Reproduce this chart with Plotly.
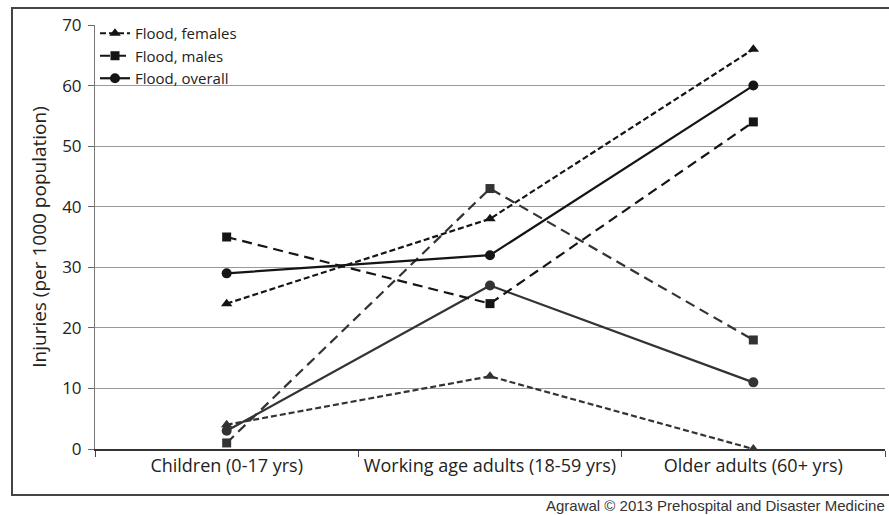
import plotly.graph_objects as go

categories = ["Children (0-17 yrs)", "Working age adults (18-59 yrs)", "Older adults (60+ yrs)"]

flood_females = [24, 38, 66]
flood_males = [35, 24, 54]
flood_overall = [29, 32, 60]

other_females = [4, 12, 0]
other_males = [1, 43, 18]
other_overall = [3, 27, 11]

y_title = "Injuries (per 1000 population)"
credit = "Agrawal © 2013 Prehospital and Disaster Medicine"

FONT = "Open Sans"
dark = "#151515"
gray = "#333333"

fig = go.Figure()

def add(y, name, color, dash, symbol, size, show):
    fig.add_trace(go.Scatter(
        x=categories, y=y, name=name, mode="lines+markers",
        line=dict(color=color, width=2.2, dash=dash),
        marker=dict(symbol=symbol, size=size, color=color),
        showlegend=show,
    ))

# un-labelled series (no legend)
add(other_females, "females", gray, "6px,3px", "triangle-up", 10, False)
add(other_males, "males", gray, "10px,6px", "square", 9, False)
add(other_overall, "overall", gray, "solid", "circle", 10, False)

add(flood_females, "Flood, females", dark, "6px,3px", "triangle-up", 10, True)
add(flood_males, "Flood, males", dark, "10px,6px", "square", 9, True)
add(flood_overall, "Flood, overall", dark, "solid", "circle", 10, True)

L, R, T, B = 95, 4, 25, 66
W, H = 889, 515
pw, ph = W - L - R, H - T - B

def px(x):
    return (x - L) / pw

def py(y):
    return (H - B - y) / ph

fig.add_shape(type="rect", xref="paper", yref="paper",
              x0=px(12), x1=px(893), y0=py(495), y1=py(8),
              line=dict(color="#444444", width=2), layer="below")

fig.add_annotation(text=credit, xref="paper", yref="paper",
                   x=px(887), y=py(505), xanchor="right", yanchor="middle",
                   showarrow=False,
                   font=dict(family="Liberation Sans, Arial", size=15, color="#333333"))

fig.update_layout(
    width=W, height=H,
    margin=dict(l=L, r=R, t=T, b=B),
    paper_bgcolor="white", plot_bgcolor="white",
    font=dict(family=FONT, color="#222222"),
    showlegend=True,
    legend=dict(x=0.0, y=py(17), xanchor="left", yanchor="top",
                bgcolor="rgba(0,0,0,0)", font=dict(size=15, family=FONT, color="#222222"),
                tracegroupgap=0, itemwidth=30),
    xaxis=dict(type="category", range=[-0.5, 2.5], tickson="boundaries",
               ticks="outside", ticklen=6, tickcolor="#444444",
               showline=True, linecolor="#333333", linewidth=1.5,
               showgrid=False, tickfont=dict(size=18, family=FONT, color="#222222")),
    yaxis=dict(range=[0, 70], dtick=10, ticks="outside", ticklen=6,
               tickcolor="#666666", showline=True, linecolor="#777777", linewidth=1,
               gridcolor="#999999", gridwidth=1, zeroline=False,
               ticklabelstandoff=3,
               tickfont=dict(size=17, family=FONT, color="#222222"),
               title=dict(text=y_title, font=dict(size=19, family=FONT, color="#222222"), standoff=10)),
)

fig.write_html("out.html", config={"displayModeBar": False},
               post_script="document.body.style.margin='0';")
